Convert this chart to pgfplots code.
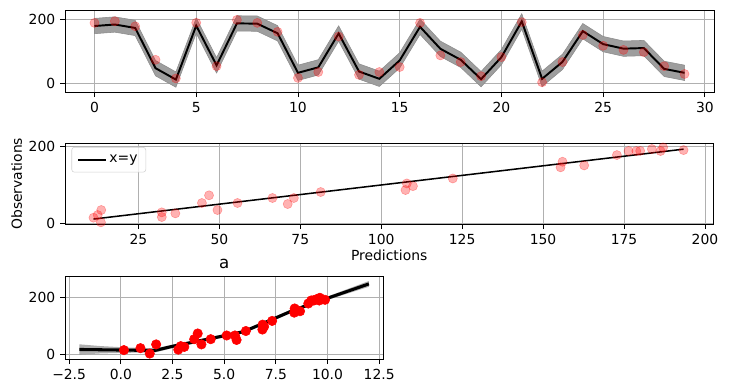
\documentclass[border=0pt]{standalone}
\usepackage{pgfplots}
\pgfplotsset{compat=1.18}
\usepackage{pgfplotstable}
\usepackage{fontspec}
\setmainfont{DejaVu Sans}

\pgfplotstableread{
idx pred obs
0 178.8 188.6
1 183.6 193.8
2 172.8 178.0
3 46.8 73.0
4 11.1 14.7
5 180.0 189.0
6 55.6 53.0
7 187.1 198.0
8 186.3 188.6
9 156.0 160.6
10 32.2 16.4
11 49.4 34.7
12 155.4 146.0
13 36.4 26.0
14 13.5 34.7
15 71.1 50.3
16 176.4 188.6
17 107.5 86.8
18 73.0 66.0
19 12.4 21.6
20 81.3 81.6
21 193.4 191.0
22 13.4 2.6
23 66.4 66.0
24 162.7 151.0
25 122.1 117.0
26 107.9 104.0
27 109.8 97.0
28 44.6 53.0
29 32.2 28.6
}\toptab

% band outline: upper edge forward, lower edge backward
\pgfplotstableread{
x y
0 202.8
1 207.6
2 196.8
3 70.8
4 35.1
5 204.0
6 79.6
7 211.1
8 210.3
9 180.0
10 56.2
11 73.4
12 179.4
13 60.4
14 37.5
15 95.1
16 200.4
17 131.5
18 97.0
19 36.4
20 105.3
21 217.4
22 37.4
23 90.4
24 186.7
25 146.1
26 131.9
27 133.8
28 68.6
29 56.2
29 8.2
28 20.6
27 85.8
26 83.9
25 98.1
24 138.7
23 42.4
22 -10.6
21 169.4
20 57.3
19 -11.6
18 49.0
17 83.5
16 152.4
15 47.1
14 -10.5
13 12.4
12 131.4
11 25.4
10 8.2
9 132.0
8 162.3
7 163.1
6 31.6
5 156.0
4 -12.9
3 22.8
2 148.8
1 159.6
0 154.8
}\topband

\pgfplotstableread{
x obs
0.15 14.7
0.95 21.6
1.40 2.6
1.71 34.7
2.78 16.4
2.90 28.6
3.07 26.0
3.55 53.0
3.72 73.0
3.90 34.7
4.35 53.0
5.12 66.0
5.60 50.3
5.52 66.0
6.05 81.6
6.85 86.8
6.86 104.0
6.93 97.0
7.32 117.0
8.41 160.6
8.39 146.0
8.67 151.0
9.07 178.0
9.21 188.6
9.30 188.6
9.35 189.0
9.49 193.8
9.60 188.6
9.63 198.0
9.88 191.0
}\bottab

\pgfplotstableread{
x y
-2 17
-1 16
0 15
1 14
1.68 14
2.56 29
4.18 52.6
5.95 79.5
7.08 114.6
8.37 155
9.98 196
12 246.7
}\fittab

\pgfplotstableread{
x y
-2 35
-1 29
0 25
1 22
1.68 21
2.56 35
4.18 58.6
5.95 85.5
7.08 120.6
8.37 161
9.98 202
12 256.7
12 236.7
9.98 190
8.37 149
7.08 108.6
5.95 73.5
4.18 46.6
2.56 23
1.68 7
1 6
0 5
-1 3
-2 -1
}\fitband

\pgfplotsset{
  mpl/.style={
    scale only axis,
    anchor=north west,
    grid=major,
    grid style={line width=0.58pt, draw=black!31},
    axis line style={line width=0.58pt},
    tick style={black, line width=0.58pt},
    tick align=outside,
    major tick length=3.5pt,
    xtick pos=left, ytick pos=left,
    /pgf/number format/assume math mode=true,
    tick label style={font=\fontsize{10}{12}\selectfont},
    label style={font=\fontsize{10}{12}\selectfont},
  }
}

\begin{document}
\begin{tikzpicture}
\path[use as bounding box] (0,0) rectangle (527.04pt,-276.48pt);

% Top panel
\begin{axis}[mpl, at={(46.8pt,-7.2pt)}, width=467.3pt, height=59.3pt,
  xmin=-1.45, xmax=30.45, ymin=-29, ymax=229,
  xtick={0,5,...,30}, ytick={0,200}]
\addplot[fill=black!38, draw=black!45, line width=0.4pt, forget plot] table[x=x,y=y] {\topband} -- cycle;
\addplot[black, line width=1.4pt, line join=miter, mark=none] table[x=idx,y=pred] {\toptab};
\addplot[only marks, mark=*, mark size=3.3pt, mark options={fill=red, draw=red, fill opacity=0.3, draw opacity=0.3}] table[x=idx,y=obs] {\toptab};
\end{axis}

% Middle panel
\begin{axis}[mpl, at={(46.8pt,-103.2pt)}, width=466.8pt, height=58.3pt,
  xmin=2.3, xmax=202.6, ymin=-2.6, ymax=208.6,
  xtick={25,50,...,200}, ytick={0,200},
  xlabel={Predictions}, ylabel={Observations},
  xlabel style={yshift=3pt}, ylabel style={yshift=-2pt},
  legend style={at={(0.01,0.955)}, anchor=north west, draw=black!18, rounded corners=2pt,
    fill=white, fill opacity=0.8, text opacity=1, font=\fontsize{10}{12}\selectfont,
    inner xsep=4pt, inner ysep=3.5pt},
  legend cell align=left,
  legend image code/.code={\draw[line width=1.1pt] (0pt,0pt) -- (20pt,0pt);}]
\addplot[only marks, mark=*, mark size=3.3pt, mark options={fill=red, draw=red, fill opacity=0.3, draw opacity=0.3}, forget plot] table[x=pred,y=obs] {\toptab};
\addplot[black, line width=1.1pt] coordinates {(11.1,11.1) (193.4,193.4)};
\addlegendentry{x=y}
\end{axis}

% Bottom panel
\begin{axis}[mpl, at={(46.8pt,-199.2pt)}, width=229.2pt, height=59.5pt,
  xmin=-2.7, xmax=12.7, ymin=-17.5, ymax=272,
  xtick={-2.5,0,2.5,5,7.5,10,12.5},
  xticklabels={−2.5,0.0,2.5,5.0,7.5,10.0,12.5},
  ytick={0,200},
  title={a}, title style={font=\fontsize{12}{14}\selectfont, yshift=-4pt}]
\addplot[fill=black!45, fill opacity=0.7, draw=none, forget plot] table[x=x,y=y] {\fitband} -- cycle;
\addplot[only marks, mark=*, mark size=3.4pt, mark options={fill=red, draw=red}] table[x=x,y=obs] {\bottab};
\addplot[black, line width=2.2pt, mark=none] table[x=x,y=y] {\fittab};
\end{axis}
\end{tikzpicture}
\end{document}
